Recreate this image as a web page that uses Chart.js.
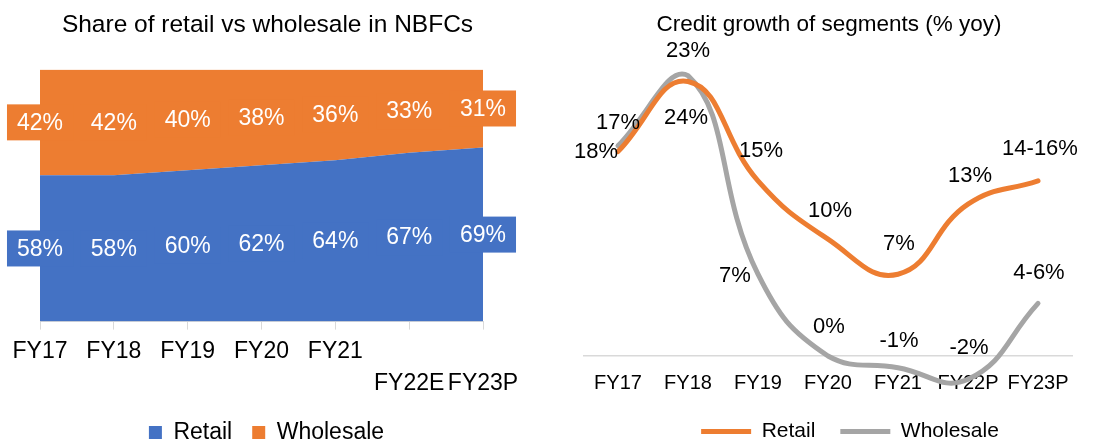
<!DOCTYPE html>
<html>
<head>
<meta charset="utf-8">
<script src="https://cdn.jsdelivr.net/npm/chart.js@4.4.0/dist/chart.umd.min.js"></script>
<style>
  html, body { margin: 0; padding: 0; background: #fff; overflow: hidden; }
  #left { position: absolute; left: 0; top: 0; width: 560px; height: 454px; }
  #right { position: absolute; left: 560px; top: 0; width: 557px; height: 452px; }
</style>
</head>
<body>
<div id="left"><canvas id="shareChart"></canvas></div>
<div id="right"><canvas id="growthChart"></canvas></div>
<script>
const FONT = '"Liberation Sans", Arial, sans-serif';

// left: share of retail vs wholesale (%)
const shareYears = ['FY17', 'FY18', 'FY19', 'FY20', 'FY21', 'FY22E', 'FY23P'];
const retailShare = [58, 58, 60, 62, 64, 67, 69];
const wholesaleShare = [42, 42, 40, 38, 36, 33, 31];

// right: credit growth (% yoy)
const growthYears = ['FY17', 'FY18', 'FY19', 'FY20', 'FY21', 'FY22P', 'FY23P'];
const retailGrowth = [17.5, 23.5, 15, 10, 7, 13, 15];
const wholesaleGrowth = [18, 24, 7, 0, -1, -2, 4.5];
const retailGrowthLabels = ['18%', '23%', '15%', '10%', '7%', '13%', '14-16%'];
const wholesaleGrowthLabels = ['17%', '24%', '7%', '0%', '-1%', '-2%', '4-6%'];

const BLUE = '#4472C4', ORANGE = '#ED7D31', GREY = '#A5A5A5';

// label placement (dx, dy from the point), set by hand like in the excel original
const retailLabelOffsets = [[-22, 0], [0, -31], [3, -30], [2, -28], [1, -30], [2, -28], [2, -32]];
const wholesaleLabelOffsets = [[0, -23], [-2, 42], [-23, 2], [1, -29], [1, -27], [1, -31], [1, -30]];

// boxed labels in the middle of each stacked band
const shareLabels = {
  id: 'shareLabels',
  afterDatasetsDraw(chart) {
    const { ctx } = chart;
    const base = chart.scales.y.getPixelForValue(0);
    ctx.save();
    ctx.font = '23px ' + FONT;
    ctx.textAlign = 'center';
    ctx.textBaseline = 'middle';
    chart.data.datasets.forEach((ds, i) => {
      const meta = chart.getDatasetMeta(i);
      meta.data.forEach((pt, j) => {
        const bottom = i === 0 ? base : chart.getDatasetMeta(i - 1).data[j].y;
        const cy = (pt.y + bottom) / 2;
        const text = ds.data[j] + '%';
        const w = ctx.measureText(text).width + 20;
        ctx.fillStyle = ds.backgroundColor;
        ctx.fillRect(pt.x - w / 2, cy - 18, w, 36);
        ctx.fillStyle = '#fff';
        ctx.fillText(text, pt.x, cy + 1);
      });
    });
    ctx.restore();
  }
};

const growthLabels = {
  id: 'growthLabels',
  afterDatasetsDraw(chart) {
    const { ctx } = chart;
    const texts = [retailGrowthLabels, wholesaleGrowthLabels];
    const offsets = [retailLabelOffsets, wholesaleLabelOffsets];
    ctx.save();
    ctx.font = '22px ' + FONT;
    ctx.fillStyle = '#000';
    ctx.textAlign = 'center';
    ctx.textBaseline = 'middle';
    chart.data.datasets.forEach((ds, i) => {
      chart.getDatasetMeta(i).data.forEach((pt, j) => {
        const [dx, dy] = offsets[i][j];
        ctx.fillText(texts[i][j], pt.x + dx, pt.y + dy);
      });
    });
    ctx.restore();
  }
};

// slide title / legend sideways a little (the original isn't centred on the plot)
const nudge = {
  id: 'nudge',
  afterLayout(chart, args, opts) {
    const boxes = { title: chart.titleBlock, legend: chart.legend };
    Object.keys(boxes).forEach(k => {
      const dx = opts[k] || 0;
      if (boxes[k] && dx) { boxes[k].left += dx; boxes[k].right += dx; }
    });
  }
};

new Chart(document.getElementById('shareChart'), {
  type: 'line',
  data: {
    labels: shareYears,
    datasets: [
      { label: 'Retail', data: retailShare, backgroundColor: BLUE, borderColor: BLUE, borderWidth: 0, fill: 'origin', pointRadius: 0, tension: 0 },
      { label: 'Wholesale', data: wholesaleShare, backgroundColor: ORANGE, borderColor: ORANGE, borderWidth: 0, fill: '-1', pointRadius: 0, tension: 0 }
    ]
  },
  options: {
    responsive: true,
    maintainAspectRatio: false,
    animation: false,
    layout: { padding: { left: 40, right: 77, top: 0, bottom: 0 } },
    plugins: {
      nudge: { title: 6, legend: 5 },
      title: {
        display: true,
        text: 'Share of retail vs wholesale in NBFCs',
        color: '#000',
        font: { family: FONT, size: 24.5, weight: 'normal', lineHeight: 1.2 },
        padding: { top: 11, bottom: 29 }
      },
      legend: {
        position: 'bottom',
        labels: { boxWidth: 13, boxHeight: 13, padding: 20, color: '#000', font: { family: FONT, size: 23 } }
      },
      tooltip: { enabled: false }
    },
    scales: {
      x: {
        offset: false,
        afterFit: s => { s.height -= 5; },
        grid: { drawOnChartArea: false, drawTicks: true, tickLength: 8, tickColor: '#d9d9d9' },
        border: { display: true, color: '#d9d9d9' },
        ticks: {
          color: '#000',
          padding: 6,
          maxRotation: 0,
          autoSkip: false,
          font: { family: FONT, size: 23, lineHeight: 1.4 },
          // the last two labels wrap to a second row in the original
          callback: (v, i) => i >= 5 ? ['', shareYears[i]] : shareYears[i]
        }
      },
      y: { display: false, stacked: true, min: 0, max: 100 }
    }
  },
  plugins: [shareLabels, nudge]
});

new Chart(document.getElementById('growthChart'), {
  type: 'line',
  data: {
    labels: growthYears,
    datasets: [
      { label: 'Retail', data: retailGrowth, borderColor: ORANGE, backgroundColor: ORANGE, borderWidth: 5, borderCapStyle: 'round', pointRadius: 0, tension: 0.45, clip: false },
      { label: 'Wholesale', data: wholesaleGrowth, borderColor: GREY, backgroundColor: GREY, borderWidth: 5, borderCapStyle: 'round', pointRadius: 0, tension: 0.45, clip: false }
    ]
  },
  options: {
    responsive: true,
    maintainAspectRatio: false,
    animation: false,
    layout: { padding: { left: 23, right: 44, top: 0, bottom: 0 } },
    plugins: {
      nudge: { title: 1, legend: 22 },
      title: {
        display: true,
        text: 'Credit growth of segments (% yoy)',
        color: '#000',
        font: { family: FONT, size: 22.5, weight: 'normal', lineHeight: 1.2 },
        padding: { top: 11.5, bottom: 25.5 }
      },
      legend: {
        position: 'bottom',
        labels: {
          usePointStyle: true,
          pointStyle: 'line',
          pointStyleWidth: 50,
          padding: 25,
          color: '#000',
          font: { family: FONT, size: 21 }
        }
      },
      tooltip: { enabled: false }
    },
    scales: {
      x: {
        offset: true,
        grid: { display: false, drawTicks: false },
        border: { display: false },
        ticks: { color: '#000', padding: 1, maxRotation: 0, autoSkip: false, font: { family: FONT, size: 20 } }
      },
      y: {
        min: -1.2,
        max: 25,
        ticks: { display: false, stepSize: 1 },
        border: { display: false },
        grid: {
          drawTicks: false,
          lineWidth: 1.5,
          color: c => c.tick && c.tick.value === 0 ? '#d9d9d9' : 'rgba(0,0,0,0)'
        }
      }
    }
  },
  plugins: [growthLabels, nudge]
});
</script>
</body>
</html>
